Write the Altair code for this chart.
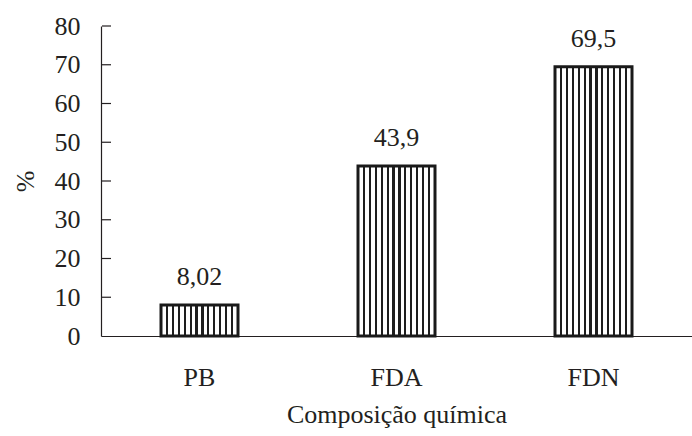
import altair as alt
import pandas as pd

# Composição química da forragem (%)
categorias = ["PB", "FDA", "FDN"]
valores = [8.02, 43.9, 69.5]
ticks_y = [0, 10, 20, 30, 40, 50, 60, 70, 80]

FONT = "Liberation Serif"
INK = "#231f20"

df = pd.DataFrame({"comp": categorias, "valor": valores})
df_ticks = pd.DataFrame({"valor": ticks_y[1:]})

# vertical hatching inside each bar, built as a hard-edged linear gradient
n_lines = 12
half = 0.0135
stops = [alt.GradientStop(color="white", offset=0)]
for i in range(1, n_lines + 1):
    c = i / (n_lines + 1)
    stops += [
        alt.GradientStop(color="white", offset=c - half),
        alt.GradientStop(color="#1e1e1e", offset=c - half),
        alt.GradientStop(color="#1e1e1e", offset=c + half),
        alt.GradientStop(color="white", offset=c + half),
    ]
stops.append(alt.GradientStop(color="white", offset=1))
hatch = alt.Gradient(gradient="linear", stops=stops, x1=0, x2=1, y1=0, y2=0)

x_axis = alt.Axis(
    title="Composição química",
    labelAngle=0,
    ticks=False,
    labelPadding=28,
    labelFontSize=26,
    titleFontSize=26,
    titleFontWeight="normal",
    titleBaseline="alphabetic",
    titleY=86,
    domainColor=INK,
    domainWidth=1.2,
)
y_axis = alt.Axis(
    title="%",
    values=ticks_y,
    labelOverlap=False,
    ticks=False,
    grid=False,
    labelPadding=21,
    labelFontSize=26,
    titleFontSize=26,
    titleFontWeight="normal",
    titleX=-76,
    titleBaseline="middle",
    domainColor=INK,
    domainWidth=1.2,
)
x_scale = alt.Scale(domain=categorias, paddingInner=0, paddingOuter=0)
y_scale = alt.Scale(domain=[0, 80], nice=False)

bars = alt.Chart(df).mark_bar(
    size=77, fill=hatch, stroke="#1a1a1a", strokeWidth=3
).encode(
    x=alt.X("comp:N", scale=x_scale, axis=x_axis),
    y=alt.Y("valor:Q", scale=y_scale, axis=y_axis),
)

labels = alt.Chart(df).transform_calculate(
    rotulo="replace(toString(datum.valor), '.', ',')"
).mark_text(
    baseline="alphabetic", dy=-20, fontSize=26, font=FONT, color=INK
).encode(
    x=alt.X("comp:N", scale=x_scale, axis=x_axis),
    y=alt.Y("valor:Q", scale=y_scale, axis=y_axis),
    text="rotulo:N",
)

# inward tick marks on the value axis
inner_ticks = alt.Chart(df_ticks).mark_rule(color=INK, strokeWidth=1.2).encode(
    y=alt.Y("valor:Q", scale=y_scale, axis=y_axis),
    x=alt.value(1),
    x2=alt.value(10),
)

chart = (
    alt.layer(bars, labels, inner_ticks)
    .properties(
        width=591,
        height=310,
        autosize=alt.AutoSizeParams(type="none"),
        padding={"left": 101, "top": 26, "right": 0, "bottom": 100},
        background="white",
    )
    .configure_view(stroke=None)
    .configure_axis(
        labelFont=FONT,
        titleFont=FONT,
        labelColor=INK,
        titleColor=INK,
    )
)

chart.save("out.html", embed_options={"renderer": "svg", "actions": False})
